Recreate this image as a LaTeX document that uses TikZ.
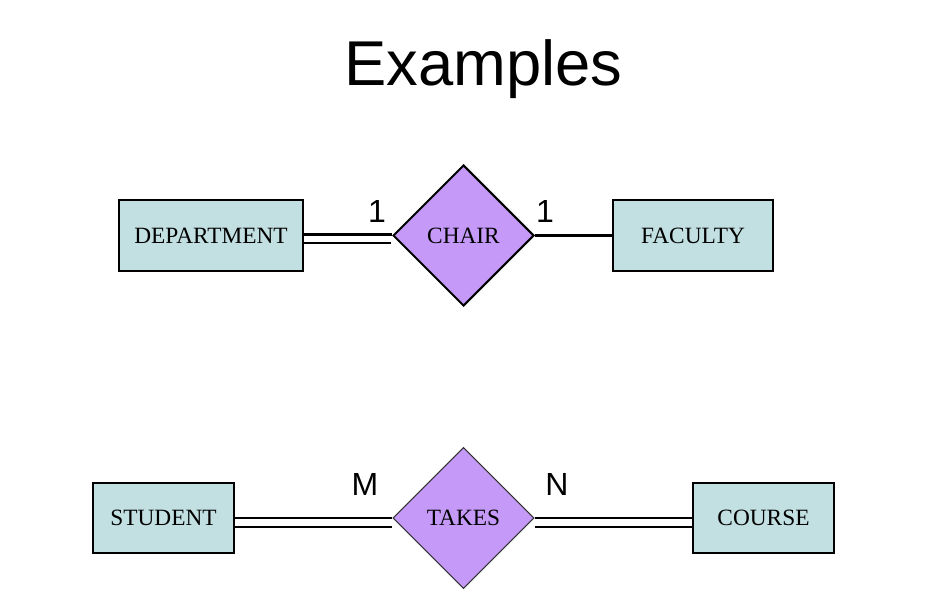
\documentclass[tikz,border=0pt]{standalone}
\usepackage{fontspec}
\setmainfont{Liberation Serif}
\newfontfamily\arialf{Liberation Sans}
\usetikzlibrary{shapes.geometric}
\definecolor{entfill}{RGB}{194,224,226}
\definecolor{relfill}{RGB}{197,153,248}
\tikzset{
  entity/.style={draw=black, fill=entfill, rectangle, inner sep=0pt, font=\fontsize{17.5}{20}\selectfont},
  rel/.style={draw=black, fill=relfill, diamond, aspect=1, inner sep=0pt, minimum width=105.75pt, minimum height=105.75pt, font=\fontsize{17.5}{20}\selectfont},
  card/.style={anchor=base, inner sep=0pt, font=\arialf\fontsize{24}{28}\selectfont},
  conn/.style={line width=1.6pt, draw=black},
}
\begin{document}
\begin{tikzpicture}[x=0.75pt, y=-0.75pt]
\useasboundingbox (0,0) rectangle (928,610);
\fill[white] (0,0) rectangle (928,610);
\node[anchor=base, inner sep=0pt, font=\arialf\fontsize{47.5}{52}\selectfont] (title) at (483.5,85) {Examples};

% top diagram
\node[entity, line width=1.5pt, minimum width=138pt, minimum height=53.25pt] (dep) at (211,235.5) {DEPARTMENT};
\node[rel, line width=1.5pt] (chair) at (463.5,235.5) {CHAIR};
\node[entity, line width=1.5pt, minimum width=120pt, minimum height=53.25pt] (fac) at (693,235.5) {FACULTY};
\draw[conn] ([yshift=0.75pt]dep.east) -- ([yshift=0.75pt]chair.west);
\draw[conn] ([yshift=-5.6pt]dep.east) -- ([xshift=-0.75pt,yshift=-5.6pt]chair.west);
\draw[conn] (chair.east) -- (fac.west);
\node[card] (c1) at (377,222) {1};
\node[card] (c2) at (545,222) {1};

% bottom diagram
\node[entity, line width=1.1pt, minimum width=105.75pt, minimum height=52.5pt] (stu) at (163.5,518) {STUDENT};
\node[rel, draw=black!80, line width=0.8pt] (takes) at (463.5,518) {TAKES};
\node[entity, line width=1.1pt, minimum width=105.75pt, minimum height=52.5pt] (crs) at (763.5,518) {COURSE};
\draw[conn] (stu.east) -- (takes.west);
\draw[conn] ([yshift=-6.6pt]stu.east) -- ([yshift=-6.6pt]takes.west);
\draw[conn] (takes.east) -- (crs.west);
\draw[conn] ([yshift=-6.6pt]takes.east) -- ([yshift=-6.6pt]crs.west);
\node[card] (cm) at (365,495) {M};
\node[card] (cn) at (557,495) {N};
\end{tikzpicture}
\end{document}
